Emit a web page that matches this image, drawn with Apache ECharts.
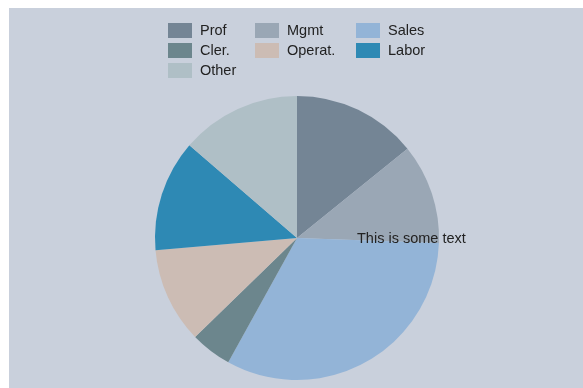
<!DOCTYPE html>
<html>
<head>
<meta charset="utf-8">
<script src="https://cdn.jsdelivr.net/npm/echarts@6/dist/echarts.min.js"></script>
<style>html,body{margin:0;padding:0;background:#fff}#c{width:583px;height:388px}</style>
</head>
<body>
<div id="c"></div>
<script>
const categories = ['Prof', 'Mgmt', 'Sales', 'Cler.', 'Operat.', 'Labor', 'Other'];
const values = [14.2, 11.4, 32.5, 4.7, 10.9, 12.7, 13.7];
const colors = ['#748595', '#9aa7b5', '#93b4d7', '#6c868d', '#ccbcb4', '#2e89b4', '#afbfc6'];
const legendCols = [['Prof', 'Cler.', 'Other'], ['Mgmt', 'Operat.'], ['Sales', 'Labor']];
const legendLefts = [168, 255, 356];
const annotation = 'This is some text';

const font = '"Liberation Sans", Arial, Helvetica, sans-serif';
const chart = echarts.init(document.getElementById('c'), null, {renderer: 'canvas'});
chart.setOption({
  backgroundColor: '#ffffff',
  animation: false,
  color: colors,
  graphic: [
    {type: 'rect', z: -10, silent: true, shape: {x: 9, y: 8, width: 574, height: 380}, style: {fill: '#c9d0dc'}},
    {type: 'text', z: 100, x: 357, y: 239, style: {text: annotation, fill: '#222222', font: '14.5px ' + font, verticalAlign: 'middle'}}
  ],
  legend: legendCols.map((col, i) => ({
    orient: 'vertical',
    left: legendLefts[i],
    top: 23,
    padding: 0,
    itemGap: 5,
    itemWidth: 24,
    itemHeight: 15,
    icon: 'rect',
    selectedMode: false,
    data: col,
    textStyle: {fontSize: 14.5, fontFamily: font, color: '#222222', padding: [2, 0, 0, 3]}
  })),
  series: [{
    type: 'pie',
    center: [297, 238],
    radius: 142,
    startAngle: 90,
    clockwise: true,
    label: {show: false},
    labelLine: {show: false},
    emphasis: {disabled: true},
    itemStyle: {borderWidth: 0},
    data: categories.map((c, i) => ({name: c, value: values[i]}))
  }]
});
</script>
</body>
</html>
